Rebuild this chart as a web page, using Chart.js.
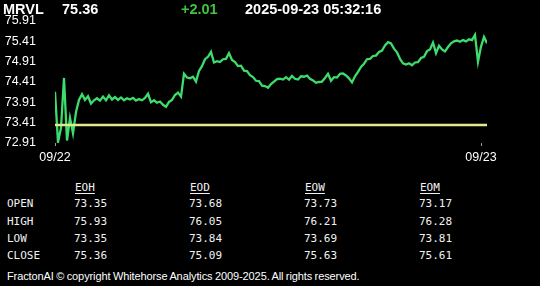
<!DOCTYPE html>
<html>
<head>
<meta charset="utf-8">
<script src="https://cdn.jsdelivr.net/npm/chart.js@4.4.1/dist/chart.umd.min.js"></script>
<style>
  html, body { margin: 0; padding: 0; background: #000; }
  body { width: 540px; height: 286px; position: relative; overflow: hidden; font-family: "Liberation Sans", Arial, sans-serif; color: #fff; }
  #wrap { position: absolute; left: 0; top: 0; width: 540px; height: 162px; }
  .hdr { position: absolute; top: 1px; font-weight: bold; font-size: 14.5px; white-space: nowrap; }
  .tbl { position: absolute; font-family: "DejaVu Sans Mono", monospace; font-size: 11px; color: #f2f2f2; white-space: nowrap; line-height: 12px; }
  .tbl.head { text-decoration: underline; text-underline-offset: 2px; }
  #foot { position: absolute; left: 7px; top: 270px; font-size: 11px; letter-spacing: -0.1px; word-spacing: -0.5px; white-space: nowrap; }
</style>
</head>
<body>
<div id="wrap"><canvas id="priceChart"></canvas></div>
<div class="hdr" style="left:3px">MRVL</div>
<div class="hdr" style="left:62px">75.36</div>
<div class="hdr" style="left:181px;color:#3fc43f">+2.01</div>
<div class="hdr" style="left:245px">2025-09-23 05:32:16</div>
<div id="table"></div>
<div id="foot">FractonAI © copyright Whitehorse Analytics 2009-2025. All rights reserved.</div>
<script>
// intraday prices, 09/22 -> 09/23
const prices = [
  74.17, 72.93, 73.28, 74.51, 72.97, 73.53, 73.15, 73.67, 73.97, 74.11,
  73.97, 74.06, 73.88, 73.96, 74.01, 73.95, 74.05, 73.96, 74.08, 73.98,
  74.04, 73.97, 74.03, 73.96, 74.01, 73.98, 74.02, 73.95, 73.99, 73.96,
  74.02, 74.12, 73.91, 73.96, 73.90, 73.93, 73.85, 73.80, 73.92, 73.97,
  74.09, 74.15, 74.05, 74.61, 74.52, 74.50, 74.54, 74.42, 74.68, 74.80,
  74.97, 75.03, 75.15, 74.89, 74.92, 74.90, 74.97, 74.98, 75.12, 74.95,
  74.90, 74.80, 74.81, 74.69, 74.68, 74.58, 74.53, 74.44, 74.43, 74.32,
  74.31, 74.27, 74.36, 74.42, 74.48, 74.49, 74.47, 74.53, 74.47, 74.56,
  74.49, 74.47, 74.55, 74.54, 74.57, 74.49, 74.45, 74.39, 74.41, 74.42,
  74.51, 74.61, 74.44, 74.53, 74.52, 74.61, 74.62, 74.57, 74.50, 74.40,
  74.55, 74.66, 74.78, 74.86, 74.97, 74.98, 75.05, 75.06, 75.15, 75.18,
  75.31, 75.39, 75.36, 75.23, 75.14, 74.98, 74.87, 74.84, 74.87, 74.82,
  74.89, 74.90, 75.00, 75.03, 75.17, 75.21, 75.38, 75.12, 75.30, 75.21,
  75.16, 75.27, 75.36, 75.41, 75.43, 75.40, 75.44, 75.41, 75.46, 75.44,
  75.57, 74.91, 75.28, 75.52, 75.36
];
const prevClose = 73.35;
const yTicks = [72.91, 73.41, 73.91, 74.41, 74.91, 75.41, 75.91];
const dateTicks = [0, 142];
const dateLabels = ['09/22', '09/23'];

// summary table
const rowNames = ['OPEN', 'HIGH', 'LOW', 'CLOSE'];
const colNames = ['EOH', 'EOD', 'EOW', 'EOM'];
const eoh = ['73.35', '75.93', '73.35', '75.36'];
const eod = ['73.68', '76.05', '73.84', '75.09'];
const eow = ['73.73', '76.21', '73.69', '75.63'];
const eom = ['73.17', '76.28', '73.81', '75.61'];

const colX = [74, 189, 304, 419];
const rowY = [198, 216, 233, 250];
const table = document.getElementById('table');
function addCell(text, x, y, cls) {
  const d = document.createElement('div');
  d.className = 'tbl' + (cls ? ' ' + cls : '');
  d.style.left = x + 'px';
  d.style.top = y + 'px';
  d.textContent = text;
  table.appendChild(d);
}
colNames.forEach((c, i) => addCell(c, colX[i] + 1, 182, 'head'));
rowNames.forEach((r, j) => addCell(r, 7, rowY[j]));
[eoh, eod, eow, eom].forEach((col, i) => {
  col.forEach((v, j) => addCell(v, colX[i], rowY[j]));
});

const ctx = document.getElementById('priceChart').getContext('2d');
const chart = new Chart(ctx, {
  type: 'line',
  data: {
    datasets: [{
      label: 'Prev close',
      data: prices.map((_, i) => ({ x: i, y: prevClose })),
      borderColor: '#e2e98c',
      borderWidth: 2.5,
      pointRadius: 0
    }, {
      label: 'MRVL',
      data: prices.map((v, i) => ({ x: i, y: v })),
      borderColor: '#3ddc6c',
      borderWidth: 2.3,
      pointRadius: 0,
      tension: 0
    }]
  },
  options: {
    responsive: true,
    maintainAspectRatio: false,
    animation: false,
    layout: {
      padding: { left: 0, right: 53, top: 21, bottom: 0 }
    },
    plugins: {
      legend: { display: false },
      tooltip: { enabled: false }
    },
    scales: {
      x: {
        type: 'linear',
        min: 0,
        max: prices.length - 1,
        afterBuildTicks: function(scale) {
          scale.ticks = dateTicks.map(v => ({ value: v }));
        },
        afterFit: function(scale) {
          scale.height = 19;
        },
        border: { display: false },
        grid: { drawOnChartArea: false, drawTicks: true, tickLength: 3, color: '#9a9a9a' },
        ticks: {
          color: '#fff',
          padding: 4,
          maxRotation: 0,
          font: { family: 'Liberation Sans', size: 12.5 },
          callback: function(value) {
            const k = dateTicks.indexOf(value);
            return k >= 0 ? dateLabels[k] : '';
          }
        }
      },
      y: {
        min: 72.91,
        max: 75.91,
        afterBuildTicks: function(scale) {
          scale.ticks = yTicks.map(v => ({ value: v }));
        },
        afterFit: function(scale) {
          scale.width = 55;
        },
        border: { display: false },
        grid: { display: false },
        ticks: {
          color: '#fff',
          padding: 11,
          font: { family: 'Liberation Sans', size: 12.5 },
          callback: function(value) {
            return value.toFixed(2);
          }
        }
      }
    }
  }
});
</script>
</body>
</html>
